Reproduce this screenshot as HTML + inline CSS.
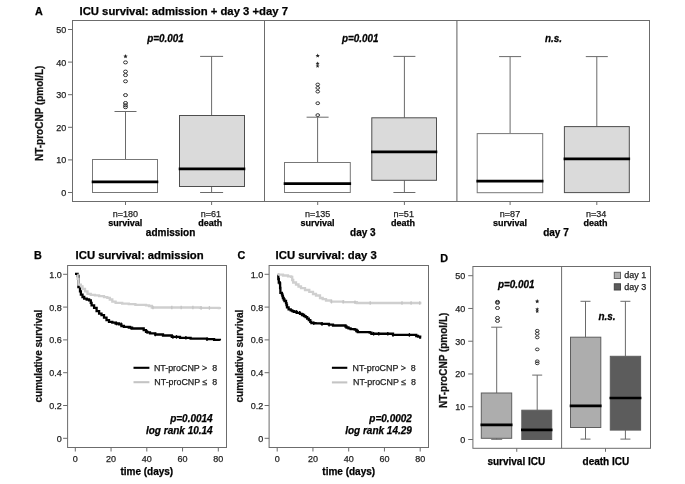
<!DOCTYPE html>
<html><head><meta charset="utf-8"><style>
html,body{margin:0;padding:0;background:#fff;width:685px;height:484px;overflow:hidden}
svg{display:block;font-family:"Liberation Sans", sans-serif;will-change:transform}
text{stroke-width:0.25;paint-order:stroke}
</style></head><body>
<svg width="685" height="484" viewBox="0 0 685 484">
<rect width="685" height="484" fill="#fff"/>
<text x="35" y="14.6" font-size="10.8" font-weight="bold" fill="#000" stroke="#000" stroke-width="0.2" >A</text>
<text x="79.5" y="14.6" font-size="11.3" font-weight="bold" fill="#000" stroke="#000" stroke-width="0.2" >ICU survival: admission + day 3 +day 7</text>
<rect x="72.5" y="20.5" width="577" height="181" fill="none" stroke="#6c6c6c" stroke-width="1"/>
<line x1="264.5" y1="20.5" x2="264.5" y2="201.5" stroke="#6c6c6c" stroke-width="1"/>
<line x1="456.9" y1="20.5" x2="456.9" y2="201.5" stroke="#6c6c6c" stroke-width="1.1"/>
<line x1="68" y1="192.5" x2="72.5" y2="192.5" stroke="#6c6c6c" stroke-width="1"/>
<text x="66.2" y="196" font-size="9" text-anchor="end" fill="#1e1e1e" stroke="#1e1e1e" >0</text>
<line x1="68" y1="159.9" x2="72.5" y2="159.9" stroke="#6c6c6c" stroke-width="1"/>
<text x="66.2" y="163.4" font-size="9" text-anchor="end" fill="#1e1e1e" stroke="#1e1e1e" >10</text>
<line x1="68" y1="127.3" x2="72.5" y2="127.3" stroke="#6c6c6c" stroke-width="1"/>
<text x="66.2" y="130.8" font-size="9" text-anchor="end" fill="#1e1e1e" stroke="#1e1e1e" >20</text>
<line x1="68" y1="94.7" x2="72.5" y2="94.7" stroke="#6c6c6c" stroke-width="1"/>
<text x="66.2" y="98.2" font-size="9" text-anchor="end" fill="#1e1e1e" stroke="#1e1e1e" >30</text>
<line x1="68" y1="62.1" x2="72.5" y2="62.1" stroke="#6c6c6c" stroke-width="1"/>
<text x="66.2" y="65.6" font-size="9" text-anchor="end" fill="#1e1e1e" stroke="#1e1e1e" >40</text>
<line x1="68" y1="29.5" x2="72.5" y2="29.5" stroke="#6c6c6c" stroke-width="1"/>
<text x="66.2" y="33" font-size="9" text-anchor="end" fill="#1e1e1e" stroke="#1e1e1e" >50</text>
<text transform="translate(42.6,161) rotate(-90)" font-size="10" font-weight="bold" fill="#111" stroke="#111" stroke-width="0.2">NT-proCNP (pmol/L)</text>
<line x1="125.5" y1="111.5" x2="125.5" y2="159.5" stroke="#6a6a6a" stroke-width="1"/>
<line x1="114.5" y1="111.5" x2="136.5" y2="111.5" stroke="#6a6a6a" stroke-width="1"/>
<rect x="92.5" y="159.5" width="65" height="33" fill="#fff" stroke="#777" stroke-width="1"/>
<line x1="91.7" y1="181.9" x2="158.3" y2="181.9" stroke="#000" stroke-width="2.7"/>
<line x1="211.6" y1="56.4" x2="211.6" y2="115.5" stroke="#6a6a6a" stroke-width="1"/>
<line x1="200.1" y1="56.4" x2="223.1" y2="56.4" stroke="#6a6a6a" stroke-width="1"/>
<line x1="211.6" y1="186.5" x2="211.6" y2="192.5" stroke="#6a6a6a" stroke-width="1"/>
<line x1="200.1" y1="192.5" x2="223.1" y2="192.5" stroke="#6a6a6a" stroke-width="1"/>
<rect x="179.5" y="115.5" width="65" height="71" fill="#dadada" stroke="#4e4e4e" stroke-width="1"/>
<line x1="178.7" y1="168.9" x2="245.3" y2="168.9" stroke="#000" stroke-width="2.7"/>
<line x1="317.6" y1="117.2" x2="317.6" y2="162.5" stroke="#6a6a6a" stroke-width="1"/>
<line x1="306.6" y1="117.2" x2="328.6" y2="117.2" stroke="#6a6a6a" stroke-width="1"/>
<rect x="284.5" y="162.5" width="65.8" height="30" fill="#fff" stroke="#777" stroke-width="1"/>
<line x1="283.7" y1="183.6" x2="351.1" y2="183.6" stroke="#000" stroke-width="2.7"/>
<line x1="404.4" y1="56.4" x2="404.4" y2="117.8" stroke="#6a6a6a" stroke-width="1"/>
<line x1="393.4" y1="56.4" x2="415.4" y2="56.4" stroke="#6a6a6a" stroke-width="1"/>
<line x1="404.4" y1="180.3" x2="404.4" y2="192.5" stroke="#6a6a6a" stroke-width="1"/>
<line x1="393.4" y1="192.5" x2="415.4" y2="192.5" stroke="#6a6a6a" stroke-width="1"/>
<rect x="371.8" y="117.8" width="64.7" height="62.5" fill="#dadada" stroke="#4e4e4e" stroke-width="1"/>
<line x1="371" y1="151.8" x2="437.3" y2="151.8" stroke="#000" stroke-width="2.7"/>
<line x1="510.1" y1="56.6" x2="510.1" y2="133.6" stroke="#6a6a6a" stroke-width="1"/>
<line x1="499.1" y1="56.6" x2="521.1" y2="56.6" stroke="#6a6a6a" stroke-width="1"/>
<rect x="477.2" y="133.6" width="65.5" height="59.1" fill="#fff" stroke="#777" stroke-width="1"/>
<line x1="476.4" y1="181.1" x2="543.5" y2="181.1" stroke="#000" stroke-width="2.7"/>
<line x1="596.8" y1="56.6" x2="596.8" y2="126.6" stroke="#6a6a6a" stroke-width="1"/>
<line x1="585.8" y1="56.6" x2="607.8" y2="56.6" stroke="#6a6a6a" stroke-width="1"/>
<rect x="564.4" y="126.6" width="64.9" height="66" fill="#dadada" stroke="#4e4e4e" stroke-width="1"/>
<line x1="563.6" y1="158.8" x2="630.1" y2="158.8" stroke="#000" stroke-width="2.7"/>
<polygon points="125.5,54.1 126.09,55.59 127.69,55.69 126.45,56.71 126.85,58.26 125.5,57.4 124.15,58.26 124.55,56.71 123.31,55.69 124.91,55.59" fill="#222"/>
<ellipse cx="125.5" cy="62.4" rx="2.0" ry="1.5" fill="none" stroke="#2a2a2a" stroke-width="0.95"/>
<ellipse cx="125.5" cy="71.6" rx="2.0" ry="1.5" fill="none" stroke="#2a2a2a" stroke-width="0.95"/>
<ellipse cx="125.5" cy="75.1" rx="2.0" ry="1.5" fill="none" stroke="#2a2a2a" stroke-width="0.95"/>
<ellipse cx="125.5" cy="81.3" rx="2.0" ry="1.5" fill="none" stroke="#2a2a2a" stroke-width="0.95"/>
<ellipse cx="125.5" cy="95.1" rx="2.0" ry="1.5" fill="none" stroke="#2a2a2a" stroke-width="0.95"/>
<ellipse cx="125.5" cy="103" rx="2.0" ry="1.5" fill="none" stroke="#2a2a2a" stroke-width="0.95"/>
<ellipse cx="125.5" cy="105.3" rx="2.0" ry="1.5" fill="none" stroke="#2a2a2a" stroke-width="0.95"/>
<ellipse cx="125.5" cy="107.2" rx="2.0" ry="1.5" fill="none" stroke="#2a2a2a" stroke-width="0.95"/>
<polygon points="317.7,53.4 318.29,54.89 319.89,54.99 318.65,56.01 319.05,57.56 317.7,56.7 316.35,57.56 316.75,56.01 315.51,54.99 317.11,54.89" fill="#222"/>
<polygon points="317.6,61.53 318.13,62.87 319.57,62.96 318.46,63.88 318.82,65.27 317.6,64.5 316.38,65.27 316.74,63.88 315.63,62.96 317.07,62.87" fill="#222"/>
<polygon points="317.6,64.13 318.13,65.47 319.57,65.56 318.46,66.48 318.82,67.87 317.6,67.1 316.38,67.87 316.74,66.48 315.63,65.56 317.07,65.47" fill="#222"/>
<ellipse cx="317.75" cy="84.5" rx="1.85" ry="1.4" fill="none" stroke="#2a2a2a" stroke-width="0.95"/>
<ellipse cx="317.75" cy="87.9" rx="1.85" ry="1.4" fill="none" stroke="#2a2a2a" stroke-width="0.95"/>
<ellipse cx="317.75" cy="91.6" rx="1.85" ry="1.4" fill="none" stroke="#2a2a2a" stroke-width="0.95"/>
<ellipse cx="317.75" cy="103.2" rx="1.85" ry="1.4" fill="none" stroke="#2a2a2a" stroke-width="0.95"/>
<ellipse cx="317.75" cy="115.1" rx="1.85" ry="1.4" fill="none" stroke="#2a2a2a" stroke-width="0.95"/>
<line x1="125.5" y1="201.5" x2="125.5" y2="205" stroke="#6c6c6c" stroke-width="1"/>
<text x="125.4" y="216.5" font-size="9.0" text-anchor="middle" fill="#1e1e1e" stroke="#1e1e1e" >n=180</text>
<text x="125.3" y="226.1" font-size="9" font-weight="bold" text-anchor="middle" fill="#000" stroke="#000" stroke-width="0.2" >survival</text>
<line x1="211.6" y1="201.5" x2="211.6" y2="205" stroke="#6c6c6c" stroke-width="1"/>
<text x="210.95" y="216.5" font-size="9.0" text-anchor="middle" fill="#1e1e1e" stroke="#1e1e1e" >n=61</text>
<text x="210.3" y="226.1" font-size="9" font-weight="bold" text-anchor="middle" fill="#000" stroke="#000" stroke-width="0.2" >death</text>
<line x1="317.7" y1="201.5" x2="317.7" y2="205" stroke="#6c6c6c" stroke-width="1"/>
<text x="317.6" y="216.5" font-size="9.0" text-anchor="middle" fill="#1e1e1e" stroke="#1e1e1e" >n=135</text>
<text x="317.5" y="226.1" font-size="9" font-weight="bold" text-anchor="middle" fill="#000" stroke="#000" stroke-width="0.2" >survival</text>
<line x1="404.4" y1="201.5" x2="404.4" y2="205" stroke="#6c6c6c" stroke-width="1"/>
<text x="403.75" y="216.5" font-size="9.0" text-anchor="middle" fill="#1e1e1e" stroke="#1e1e1e" >n=51</text>
<text x="403.1" y="226.1" font-size="9" font-weight="bold" text-anchor="middle" fill="#000" stroke="#000" stroke-width="0.2" >death</text>
<line x1="510.1" y1="201.5" x2="510.1" y2="205" stroke="#6c6c6c" stroke-width="1"/>
<text x="510" y="216.5" font-size="9.0" text-anchor="middle" fill="#1e1e1e" stroke="#1e1e1e" >n=87</text>
<text x="509.9" y="226.1" font-size="9" font-weight="bold" text-anchor="middle" fill="#000" stroke="#000" stroke-width="0.2" >survival</text>
<line x1="596.8" y1="201.5" x2="596.8" y2="205" stroke="#6c6c6c" stroke-width="1"/>
<text x="596.15" y="216.5" font-size="9.0" text-anchor="middle" fill="#1e1e1e" stroke="#1e1e1e" >n=34</text>
<text x="595.5" y="226.1" font-size="9" font-weight="bold" text-anchor="middle" fill="#000" stroke="#000" stroke-width="0.2" >death</text>
<text x="170.6" y="236.2" font-size="10" font-weight="bold" text-anchor="middle" fill="#000" stroke="#000" stroke-width="0.2" >admission</text>
<text x="362.9" y="236.2" font-size="10" font-weight="bold" text-anchor="middle" fill="#000" stroke="#000" stroke-width="0.2" >day 3</text>
<text x="556" y="236.2" font-size="10" font-weight="bold" text-anchor="middle" fill="#000" stroke="#000" stroke-width="0.2" >day 7</text>
<text transform="translate(165.5,41.9) scale(1,1.1)" font-size="9.9" font-weight="bold" font-style="italic" text-anchor="middle" fill="#000" stroke="#000" >p=0.001</text>
<text transform="translate(360.25,41.9) scale(1,1.1)" font-size="9.9" font-weight="bold" font-style="italic" text-anchor="middle" fill="#000" stroke="#000" >p=0.001</text>
<text transform="translate(553.4,41.9) scale(1,1.1)" font-size="9.9" font-weight="bold" font-style="italic" text-anchor="middle" fill="#000" stroke="#000" >n.s.</text>
<text x="34" y="258.9" font-size="10.8" font-weight="bold" fill="#000" stroke="#000" stroke-width="0.2" >B</text>
<text x="75.6" y="259.2" font-size="11.3" font-weight="bold" fill="#000" stroke="#000" stroke-width="0.2" >ICU survival: admission</text>
<rect x="67.6" y="265.5" width="158.9" height="182" fill="none" stroke="#6c6c6c" stroke-width="1"/>
<line x1="63.1" y1="438.3" x2="67.6" y2="438.3" stroke="#6c6c6c" stroke-width="1"/>
<text x="61.8" y="441.8" font-size="9" text-anchor="end" fill="#1e1e1e" stroke="#1e1e1e" >0</text>
<line x1="63.1" y1="405.5" x2="67.6" y2="405.5" stroke="#6c6c6c" stroke-width="1"/>
<text x="61.8" y="409" font-size="9" text-anchor="end" fill="#1e1e1e" stroke="#1e1e1e" >0.2</text>
<line x1="63.1" y1="372.7" x2="67.6" y2="372.7" stroke="#6c6c6c" stroke-width="1"/>
<text x="61.8" y="376.2" font-size="9" text-anchor="end" fill="#1e1e1e" stroke="#1e1e1e" >0.4</text>
<line x1="63.1" y1="339.9" x2="67.6" y2="339.9" stroke="#6c6c6c" stroke-width="1"/>
<text x="61.8" y="343.4" font-size="9" text-anchor="end" fill="#1e1e1e" stroke="#1e1e1e" >0.6</text>
<line x1="63.1" y1="307.1" x2="67.6" y2="307.1" stroke="#6c6c6c" stroke-width="1"/>
<text x="61.8" y="310.6" font-size="9" text-anchor="end" fill="#1e1e1e" stroke="#1e1e1e" >0.8</text>
<line x1="63.1" y1="274.3" x2="67.6" y2="274.3" stroke="#6c6c6c" stroke-width="1"/>
<text x="61.8" y="277.8" font-size="9" text-anchor="end" fill="#1e1e1e" stroke="#1e1e1e" >1.0</text>
<line x1="75.3" y1="447.5" x2="75.3" y2="451.5" stroke="#6c6c6c" stroke-width="1"/>
<text x="75.3" y="462" font-size="9" text-anchor="middle" fill="#1e1e1e" stroke="#1e1e1e" >0</text>
<line x1="111.05" y1="447.5" x2="111.05" y2="451.5" stroke="#6c6c6c" stroke-width="1"/>
<text x="111.05" y="462" font-size="9" text-anchor="middle" fill="#1e1e1e" stroke="#1e1e1e" >20</text>
<line x1="146.8" y1="447.5" x2="146.8" y2="451.5" stroke="#6c6c6c" stroke-width="1"/>
<text x="146.8" y="462" font-size="9" text-anchor="middle" fill="#1e1e1e" stroke="#1e1e1e" >40</text>
<line x1="182.55" y1="447.5" x2="182.55" y2="451.5" stroke="#6c6c6c" stroke-width="1"/>
<text x="182.55" y="462" font-size="9" text-anchor="middle" fill="#1e1e1e" stroke="#1e1e1e" >60</text>
<line x1="218.3" y1="447.5" x2="218.3" y2="451.5" stroke="#6c6c6c" stroke-width="1"/>
<text x="218.3" y="462" font-size="9" text-anchor="middle" fill="#1e1e1e" stroke="#1e1e1e" >80</text>
<text x="146.8" y="474.5" font-size="10" font-weight="bold" text-anchor="middle" fill="#000" stroke="#000" stroke-width="0.2" >time (days)</text>
<text transform="translate(41.8,402.5) rotate(-90)" font-size="10" font-weight="bold" fill="#111" stroke="#111" stroke-width="0.2">cumulative survival</text>
<path d="M75,273.9H77.6V276H78.4V287.1H80V291.3H80.9V294.6H82.5V297H84.2V298.7H86.7V299.5H89.1V300.4H90.8V302.8H91.6V305.3H94.1V307.8H96.6V311.1H99.1V313.6H101.5V315.2H104V317.7H106.5V320.2H109V321.9H112.3V322.7H115.6V323.5H118.9V324.3H121.4V326H123.9V326.8H128.8V327.6H132.1V328.5H142V328.5H143.7V330.1H146V331.8H147.5V332.4H150V333.3H155.3V334.5H163V335.5H171.8V336.9H180V337.8H190.6V338.7H207V339.2H214.1V339.9H219.9V340.4" fill="none" stroke="#000" stroke-width="2.3" stroke-linejoin="miter"/>
<line x1="116.5" y1="321.7" x2="116.5" y2="325.3" stroke="#000" stroke-width="1.3"/>
<line x1="121.2" y1="322.5" x2="121.2" y2="326.1" stroke="#000" stroke-width="1.3"/>
<line x1="130.6" y1="325.8" x2="130.6" y2="329.4" stroke="#000" stroke-width="1.3"/>
<line x1="147.1" y1="330" x2="147.1" y2="333.6" stroke="#000" stroke-width="1.3"/>
<line x1="155.3" y1="332.7" x2="155.3" y2="336.3" stroke="#000" stroke-width="1.3"/>
<line x1="172.9" y1="335.1" x2="172.9" y2="338.7" stroke="#000" stroke-width="1.3"/>
<line x1="176.5" y1="335.1" x2="176.5" y2="338.7" stroke="#000" stroke-width="1.3"/>
<line x1="185.9" y1="336" x2="185.9" y2="339.6" stroke="#000" stroke-width="1.3"/>
<line x1="207" y1="337.4" x2="207" y2="341" stroke="#000" stroke-width="1.3"/>
<path d="M77.3,275H77.6V278.9H78.4V284.7H80.9V286.3H82.5V288.8H85V291.3H87.5V293.8H90.8V294.9H94.9V295.4H99.1V296.2H104V297.1H107.3V297.9H109.8V299.5H112.3V301.7H115.6V302.8H122.2V303.7H128.8V304.2H135.4V304.8H146V305.3H149V306H151.8V307.5H200V307.9H218.8V308.2H219.9V309.1" fill="none" stroke="#cfcfcf" stroke-width="2.3" stroke-linejoin="miter"/>
<line x1="153" y1="305.7" x2="153" y2="309.3" stroke="#c4c4c4" stroke-width="1.3"/>
<line x1="171.8" y1="305.7" x2="171.8" y2="309.3" stroke="#c4c4c4" stroke-width="1.3"/>
<line x1="181.2" y1="305.7" x2="181.2" y2="309.3" stroke="#c4c4c4" stroke-width="1.3"/>
<line x1="192.9" y1="305.7" x2="192.9" y2="309.3" stroke="#c4c4c4" stroke-width="1.3"/>
<line x1="201.1" y1="306.1" x2="201.1" y2="309.7" stroke="#c4c4c4" stroke-width="1.3"/>
<line x1="209.4" y1="306.1" x2="209.4" y2="309.7" stroke="#c4c4c4" stroke-width="1.3"/>
<line x1="133.5" y1="367.8" x2="149.4" y2="367.8" stroke="#000" stroke-width="2.1"/>
<line x1="133.5" y1="382.2" x2="149.4" y2="382.2" stroke="#c4c4c4" stroke-width="2.1"/>
<text x="153.9" y="370.8" font-size="8.9" fill="#1e1e1e" stroke="#1e1e1e" xml:space="preserve">NT-proCNP &gt;  8</text>
<text x="154.3" y="385.2" font-size="8.9" fill="#1e1e1e" stroke="#1e1e1e" xml:space="preserve">NT-proCNP ≤  8</text>
<text x="212.7" y="421.6" font-size="10" font-weight="bold" font-style="italic" text-anchor="end" fill="#000" stroke="#000" >p=0.0014</text>
<text x="212.7" y="433.6" font-size="10" font-weight="bold" font-style="italic" text-anchor="end" fill="#000" stroke="#000" >log rank 10.14</text>
<text x="237.6" y="258.9" font-size="10.8" font-weight="bold" fill="#000" stroke="#000" stroke-width="0.2" >C</text>
<text x="275.6" y="259.2" font-size="11.3" font-weight="bold" fill="#000" stroke="#000" stroke-width="0.2" >ICU survival: day 3</text>
<rect x="269.1" y="265.5" width="159.4" height="182" fill="none" stroke="#6c6c6c" stroke-width="1"/>
<line x1="264.6" y1="438.3" x2="269.1" y2="438.3" stroke="#6c6c6c" stroke-width="1"/>
<text x="263.3" y="441.8" font-size="9" text-anchor="end" fill="#1e1e1e" stroke="#1e1e1e" >0</text>
<line x1="264.6" y1="405.5" x2="269.1" y2="405.5" stroke="#6c6c6c" stroke-width="1"/>
<text x="263.3" y="409" font-size="9" text-anchor="end" fill="#1e1e1e" stroke="#1e1e1e" >0.2</text>
<line x1="264.6" y1="372.7" x2="269.1" y2="372.7" stroke="#6c6c6c" stroke-width="1"/>
<text x="263.3" y="376.2" font-size="9" text-anchor="end" fill="#1e1e1e" stroke="#1e1e1e" >0.4</text>
<line x1="264.6" y1="339.9" x2="269.1" y2="339.9" stroke="#6c6c6c" stroke-width="1"/>
<text x="263.3" y="343.4" font-size="9" text-anchor="end" fill="#1e1e1e" stroke="#1e1e1e" >0.6</text>
<line x1="264.6" y1="307.1" x2="269.1" y2="307.1" stroke="#6c6c6c" stroke-width="1"/>
<text x="263.3" y="310.6" font-size="9" text-anchor="end" fill="#1e1e1e" stroke="#1e1e1e" >0.8</text>
<line x1="264.6" y1="274.3" x2="269.1" y2="274.3" stroke="#6c6c6c" stroke-width="1"/>
<text x="263.3" y="277.8" font-size="9" text-anchor="end" fill="#1e1e1e" stroke="#1e1e1e" >1.0</text>
<line x1="277.2" y1="447.5" x2="277.2" y2="451.5" stroke="#6c6c6c" stroke-width="1"/>
<text x="277.2" y="462" font-size="9" text-anchor="middle" fill="#1e1e1e" stroke="#1e1e1e" >0</text>
<line x1="312.95" y1="447.5" x2="312.95" y2="451.5" stroke="#6c6c6c" stroke-width="1"/>
<text x="312.95" y="462" font-size="9" text-anchor="middle" fill="#1e1e1e" stroke="#1e1e1e" >20</text>
<line x1="348.7" y1="447.5" x2="348.7" y2="451.5" stroke="#6c6c6c" stroke-width="1"/>
<text x="348.7" y="462" font-size="9" text-anchor="middle" fill="#1e1e1e" stroke="#1e1e1e" >40</text>
<line x1="384.45" y1="447.5" x2="384.45" y2="451.5" stroke="#6c6c6c" stroke-width="1"/>
<text x="384.45" y="462" font-size="9" text-anchor="middle" fill="#1e1e1e" stroke="#1e1e1e" >60</text>
<line x1="420.2" y1="447.5" x2="420.2" y2="451.5" stroke="#6c6c6c" stroke-width="1"/>
<text x="420.2" y="462" font-size="9" text-anchor="middle" fill="#1e1e1e" stroke="#1e1e1e" >80</text>
<text x="348.7" y="474.5" font-size="10" font-weight="bold" text-anchor="middle" fill="#000" stroke="#000" stroke-width="0.2" >time (days)</text>
<text transform="translate(243.3,402.5) rotate(-90)" font-size="10" font-weight="bold" fill="#111" stroke="#111" stroke-width="0.2">cumulative survival</text>
<path d="M277.7,275H278.3V279H278.8V282.5H279.8V283.5H280.1V288H280.4V292.8H281.9V294.3H282.4V296H282.9V298H283.7V299.5H284.5V301H286V303.1H286.5V305H287V307.3H288.6V309.3H290.7V310.4H292.3V311.2H293.8V311.9H296.9V312.9H300V313.8H302V315H304.1V316.2H305.6V317.2H307.2V318.7H308.8V320.2H310.3V321.8H311.4V323.1H315.5V323.4H321.7V323.9H328.9V324.7H333V325.5H344.4V325.5H345.5V326.5H346.5V327.5H348.5V328.3H350.6V329.1H354.7V329.6H356.3V331H357.8V332.2H369.7V332.6H371.4V333.75H393V334.9H414.5V334.9H416.25V336H418V336.6H420.2V337.5H421.2V337.5" fill="none" stroke="#000" stroke-width="2.3" stroke-linejoin="miter"/>
<line x1="296.2" y1="310.1" x2="296.2" y2="313.7" stroke="#000" stroke-width="1.3"/>
<line x1="299.7" y1="311.1" x2="299.7" y2="314.7" stroke="#000" stroke-width="1.3"/>
<line x1="303.3" y1="313.2" x2="303.3" y2="316.8" stroke="#000" stroke-width="1.3"/>
<line x1="313.8" y1="321.3" x2="313.8" y2="324.9" stroke="#000" stroke-width="1.3"/>
<line x1="322" y1="322.1" x2="322" y2="325.7" stroke="#000" stroke-width="1.3"/>
<line x1="329.1" y1="322.9" x2="329.1" y2="326.5" stroke="#000" stroke-width="1.3"/>
<line x1="357.3" y1="329.2" x2="357.3" y2="332.8" stroke="#000" stroke-width="1.3"/>
<line x1="373.6" y1="331.95" x2="373.6" y2="335.55" stroke="#000" stroke-width="1.3"/>
<line x1="378.75" y1="331.95" x2="378.75" y2="335.55" stroke="#000" stroke-width="1.3"/>
<line x1="387.8" y1="331.95" x2="387.8" y2="335.55" stroke="#000" stroke-width="1.3"/>
<line x1="393" y1="333.1" x2="393" y2="336.7" stroke="#000" stroke-width="1.3"/>
<line x1="409.4" y1="333.1" x2="409.4" y2="336.7" stroke="#000" stroke-width="1.3"/>
<path d="M277.7,274.7H283V275.5H288V276.3H291.2V276.8H292.2V280H293.2V282.5H296V284.5H298.5V286.5H301V288.1H305V290H309.3V291.8H313V294H316V295.5H320V298H322.7V299.1H326V300.5H331V301.7H343.4V302.2H356.8V303H421.4V303" fill="none" stroke="#cfcfcf" stroke-width="2.3" stroke-linejoin="miter"/>
<line x1="331.5" y1="299.9" x2="331.5" y2="303.5" stroke="#c4c4c4" stroke-width="1.3"/>
<line x1="343.2" y1="299.9" x2="343.2" y2="303.5" stroke="#c4c4c4" stroke-width="1.3"/>
<line x1="355" y1="300.4" x2="355" y2="304" stroke="#c4c4c4" stroke-width="1.3"/>
<line x1="370.2" y1="301.2" x2="370.2" y2="304.8" stroke="#c4c4c4" stroke-width="1.3"/>
<line x1="402" y1="301.2" x2="402" y2="304.8" stroke="#c4c4c4" stroke-width="1.3"/>
<line x1="411.1" y1="301.2" x2="411.1" y2="304.8" stroke="#c4c4c4" stroke-width="1.3"/>
<line x1="419.7" y1="301.2" x2="419.7" y2="304.8" stroke="#c4c4c4" stroke-width="1.3"/>
<line x1="331.9" y1="367.8" x2="347.3" y2="367.8" stroke="#000" stroke-width="2.1"/>
<line x1="331.9" y1="382.4" x2="347.3" y2="382.4" stroke="#c4c4c4" stroke-width="2.1"/>
<text x="352.5" y="370.8" font-size="8.9" fill="#1e1e1e" stroke="#1e1e1e" xml:space="preserve">NT-proCNP &gt;  8</text>
<text x="353" y="385.2" font-size="8.9" fill="#1e1e1e" stroke="#1e1e1e" xml:space="preserve">NT-proCNP ≤  8</text>
<text x="411.9" y="421.6" font-size="10" font-weight="bold" font-style="italic" text-anchor="end" fill="#000" stroke="#000" >p=0.0002</text>
<text x="411.9" y="433.6" font-size="10" font-weight="bold" font-style="italic" text-anchor="end" fill="#000" stroke="#000" >log rank 14.29</text>
<text x="440.3" y="261.7" font-size="10.8" font-weight="bold" fill="#000" stroke="#000" stroke-width="0.2" >D</text>
<rect x="472.9" y="266.5" width="177.6" height="181.8" fill="none" stroke="#6c6c6c" stroke-width="1"/>
<line x1="561.6" y1="266.5" x2="561.6" y2="448.3" stroke="#6c6c6c" stroke-width="1"/>
<line x1="468.2" y1="439.5" x2="472.9" y2="439.5" stroke="#6c6c6c" stroke-width="1"/>
<text x="465.2" y="442.9" font-size="9" text-anchor="end" fill="#1e1e1e" stroke="#1e1e1e" >0</text>
<line x1="468.2" y1="406.74" x2="472.9" y2="406.74" stroke="#6c6c6c" stroke-width="1"/>
<text x="465.2" y="410.14" font-size="9" text-anchor="end" fill="#1e1e1e" stroke="#1e1e1e" >10</text>
<line x1="468.2" y1="373.98" x2="472.9" y2="373.98" stroke="#6c6c6c" stroke-width="1"/>
<text x="465.2" y="377.38" font-size="9" text-anchor="end" fill="#1e1e1e" stroke="#1e1e1e" >20</text>
<line x1="468.2" y1="341.22" x2="472.9" y2="341.22" stroke="#6c6c6c" stroke-width="1"/>
<text x="465.2" y="344.62" font-size="9" text-anchor="end" fill="#1e1e1e" stroke="#1e1e1e" >30</text>
<line x1="468.2" y1="308.46" x2="472.9" y2="308.46" stroke="#6c6c6c" stroke-width="1"/>
<text x="465.2" y="311.86" font-size="9" text-anchor="end" fill="#1e1e1e" stroke="#1e1e1e" >40</text>
<line x1="468.2" y1="275.7" x2="472.9" y2="275.7" stroke="#6c6c6c" stroke-width="1"/>
<text x="465.2" y="279.1" font-size="9" text-anchor="end" fill="#1e1e1e" stroke="#1e1e1e" >50</text>
<text transform="translate(447.3,408) rotate(-90)" font-size="10" font-weight="bold" fill="#111" stroke="#111" stroke-width="0.2">NT-proCNP (pmol/L)</text>
<line x1="496.7" y1="327.2" x2="496.7" y2="393" stroke="#6a6a6a" stroke-width="1"/>
<line x1="491.2" y1="327.2" x2="502.2" y2="327.2" stroke="#6a6a6a" stroke-width="1"/>
<line x1="496.7" y1="438.3" x2="496.7" y2="439.3" stroke="#6a6a6a" stroke-width="1"/>
<line x1="491.2" y1="439.3" x2="502.2" y2="439.3" stroke="#6a6a6a" stroke-width="1"/>
<rect x="481.3" y="393" width="30.4" height="45.3" fill="#adadad" stroke="#5e5e5e" stroke-width="1"/>
<line x1="480.5" y1="424.9" x2="512.5" y2="424.9" stroke="#000" stroke-width="2.7"/>
<line x1="537.2" y1="375.1" x2="537.2" y2="410.2" stroke="#6a6a6a" stroke-width="1"/>
<line x1="532.2" y1="375.1" x2="542.2" y2="375.1" stroke="#6a6a6a" stroke-width="1"/>
<rect x="521.8" y="410.2" width="29.9" height="29.3" fill="#5c5c5c" stroke="#5e5e5e" stroke-width="1"/>
<line x1="521" y1="429.9" x2="552.5" y2="429.9" stroke="#000" stroke-width="2.7"/>
<line x1="585.5" y1="301.3" x2="585.5" y2="337.2" stroke="#6a6a6a" stroke-width="1"/>
<line x1="580.5" y1="301.3" x2="590.5" y2="301.3" stroke="#6a6a6a" stroke-width="1"/>
<line x1="585.5" y1="427.5" x2="585.5" y2="439.1" stroke="#6a6a6a" stroke-width="1"/>
<line x1="580.5" y1="439.1" x2="590.5" y2="439.1" stroke="#6a6a6a" stroke-width="1"/>
<rect x="570.5" y="337.2" width="30.3" height="90.3" fill="#adadad" stroke="#5e5e5e" stroke-width="1"/>
<line x1="569.7" y1="405.9" x2="601.6" y2="405.9" stroke="#000" stroke-width="2.7"/>
<line x1="625.4" y1="301.3" x2="625.4" y2="356.3" stroke="#6a6a6a" stroke-width="1"/>
<line x1="620.4" y1="301.3" x2="630.4" y2="301.3" stroke="#6a6a6a" stroke-width="1"/>
<line x1="625.4" y1="430.1" x2="625.4" y2="439.1" stroke="#6a6a6a" stroke-width="1"/>
<line x1="620.4" y1="439.1" x2="630.4" y2="439.1" stroke="#6a6a6a" stroke-width="1"/>
<rect x="610.3" y="356.3" width="30.3" height="73.8" fill="#5c5c5c" stroke="#5e5e5e" stroke-width="1"/>
<line x1="609.5" y1="398" x2="641.4" y2="398" stroke="#000" stroke-width="2.7"/>
<ellipse cx="497.5" cy="301.8" rx="2.0" ry="1.5" fill="none" stroke="#2a2a2a" stroke-width="0.95"/>
<ellipse cx="497.5" cy="302.8" rx="2.0" ry="1.5" fill="none" stroke="#2a2a2a" stroke-width="0.95"/>
<ellipse cx="497.5" cy="308" rx="2.0" ry="1.5" fill="none" stroke="#2a2a2a" stroke-width="0.95"/>
<ellipse cx="497.5" cy="317.9" rx="2.0" ry="1.5" fill="none" stroke="#2a2a2a" stroke-width="0.95"/>
<ellipse cx="497.5" cy="320.9" rx="2.0" ry="1.5" fill="none" stroke="#2a2a2a" stroke-width="0.95"/>
<polygon points="537.2,299.1 537.79,300.59 539.39,300.69 538.15,301.71 538.55,303.26 537.2,302.4 535.85,303.26 536.25,301.71 535.01,300.69 536.61,300.59" fill="#222"/>
<polygon points="537.2,307.13 537.73,308.47 539.17,308.56 538.06,309.48 538.42,310.87 537.2,310.1 535.98,310.87 536.34,309.48 535.23,308.56 536.67,308.47" fill="#222"/>
<polygon points="537.2,309.23 537.73,310.57 539.17,310.66 538.06,311.58 538.42,312.97 537.2,312.2 535.98,312.97 536.34,311.58 535.23,310.66 536.67,310.57" fill="#222"/>
<ellipse cx="537.25" cy="330.8" rx="1.85" ry="1.4" fill="none" stroke="#2a2a2a" stroke-width="0.95"/>
<ellipse cx="537.25" cy="333.8" rx="1.85" ry="1.4" fill="none" stroke="#2a2a2a" stroke-width="0.95"/>
<ellipse cx="537.25" cy="337.4" rx="1.85" ry="1.4" fill="none" stroke="#2a2a2a" stroke-width="0.95"/>
<ellipse cx="537.25" cy="349.4" rx="1.85" ry="1.4" fill="none" stroke="#2a2a2a" stroke-width="0.95"/>
<ellipse cx="537.25" cy="361.3" rx="1.85" ry="1.4" fill="none" stroke="#2a2a2a" stroke-width="0.95"/>
<ellipse cx="537.25" cy="363.3" rx="1.85" ry="1.4" fill="none" stroke="#2a2a2a" stroke-width="0.95"/>
<line x1="516.75" y1="448.3" x2="516.75" y2="451.8" stroke="#6c6c6c" stroke-width="1"/>
<line x1="605.5" y1="448.3" x2="605.5" y2="451.8" stroke="#6c6c6c" stroke-width="1"/>
<text x="516.3" y="465.3" font-size="10" font-weight="bold" text-anchor="middle" fill="#000" stroke="#000" stroke-width="0.2" >survival ICU</text>
<text x="605.9" y="465.1" font-size="10" font-weight="bold" text-anchor="middle" fill="#000" stroke="#000" stroke-width="0.2" >death ICU</text>
<text transform="translate(516.2,288.2) scale(1,1.1)" font-size="9.9" font-weight="bold" font-style="italic" text-anchor="middle" fill="#000" stroke="#000" >p=0.001</text>
<text transform="translate(606.9,320.2) scale(1,1.1)" font-size="9.9" font-weight="bold" font-style="italic" text-anchor="middle" fill="#000" stroke="#000" >n.s.</text>
<rect x="614.3" y="272.3" width="6.2" height="6.2" fill="#adadad" stroke="#666" stroke-width="1"/>
<rect x="614.3" y="283.8" width="6.2" height="6.2" fill="#5c5c5c" stroke="#444" stroke-width="1"/>
<text x="624.3" y="278.2" font-size="9" fill="#1e1e1e" stroke="#1e1e1e" >day 1</text>
<text x="624.3" y="290.2" font-size="9" fill="#1e1e1e" stroke="#1e1e1e" >day 3</text>
</svg>
</body></html>
